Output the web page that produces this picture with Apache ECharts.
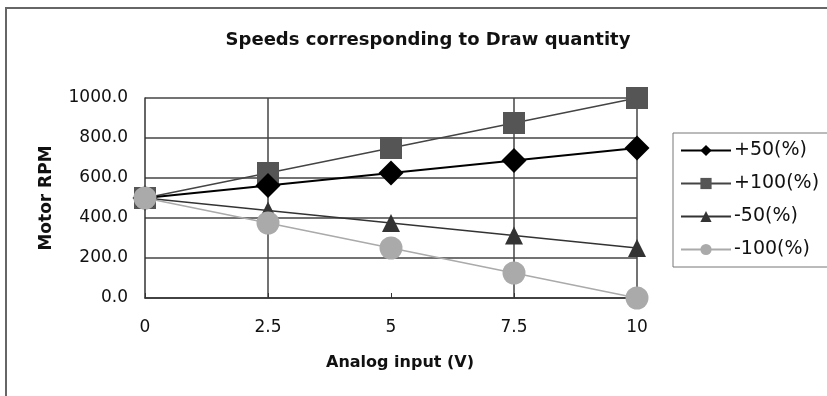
<!DOCTYPE html>
<html>
<head>
<meta charset="utf-8">
<script src="https://cdn.jsdelivr.net/npm/echarts@6/dist/echarts.min.js"></script>
<style>
html,body{margin:0;padding:0;background:#fff;}
#c{width:827px;height:396px;}
</style>
</head>
<body>
<div id="c"></div>
<script>
var categories = ['0', '2.5', '5', '7.5', '10'];
var plus50 = [500, 562.5, 625, 687.5, 750];
var plus100 = [500, 625, 750, 875, 1000];
var minus50 = [500, 437.5, 375, 312.5, 250];
var minus100 = [500, 375, 250, 125, 0];
var seriesNames = ['+50(%)', '+100(%)', '-50(%)', '-100(%)'];

var chart = echarts.init(document.getElementById('c'));
var font = 'DejaVu Sans';
chart.setOption({
  backgroundColor: '#fff',
  animation: false,
  title: {
    text: 'Speeds corresponding to Draw quantity',
    left: 423, top: 26, textAlign: 'center',
    textStyle: {fontFamily: font, fontWeight: 'bold', fontSize: 18, color: '#111'}
  },
  graphic: [
    {type: 'polyline', shape: {points: [[6, 400], [6, 8], [830, 8]]},
     style: {stroke: '#666', lineWidth: 2, fill: null}}
  ],
  legend: {
    orient: 'vertical',
    left: 673, top: 133,
    borderColor: '#777', borderWidth: 1,
    padding: [8, 10, 8, 7],
    itemWidth: 50, itemHeight: 14, itemGap: 14,
    textStyle: {fontFamily: font, fontSize: 19, color: '#111', padding: [0, 0, 0, -2]},
    data: seriesNames
  },
  grid: {left: 145, right: 190, top: 98, bottom: 98, containLabel: false},
  xAxis: {
    type: 'category',
    data: categories,
    boundaryGap: false,
    name: 'Analog input (V)',
    nameLocation: 'middle',
    nameGap: 57,
    nameTextStyle: {fontFamily: font, fontWeight: 'bold', fontSize: 16, color: '#111', padding: [0, 0, 0, 18]},
    axisLine: {lineStyle: {color: '#333', width: 1.5}},
    axisTick: {inside: true, length: 5, lineStyle: {color: '#333'}},
    axisLabel: {fontFamily: font, fontSize: 17, color: '#111', margin: 21},
    splitLine: {show: true, interval: function (i) { return i === 1 || i === 3 || i === 4; },
                lineStyle: {color: '#444', width: 1.5}}
  },
  yAxis: {
    type: 'value',
    min: 0, max: 1000, interval: 200,
    name: 'Motor RPM',
    nameLocation: 'middle',
    nameGap: 90,
    nameTextStyle: {fontFamily: font, fontWeight: 'bold', fontSize: 17, color: '#111'},
    axisLine: {show: true, lineStyle: {color: '#333', width: 1.5}},
    axisTick: {show: false},
    axisLabel: {fontFamily: font, fontSize: 17, color: '#111', margin: 17,
                formatter: function (v) { return v.toFixed(1); }},
    splitLine: {lineStyle: {color: '#444', width: 1.5}}
  },
  series: [
    {name: seriesNames[0], type: 'line', data: plus50, symbol: 'diamond', symbolSize: 25,
     itemStyle: {color: '#000'}, lineStyle: {color: '#000', width: 2}, z: 3},
    {name: seriesNames[1], type: 'line', data: plus100, symbol: 'rect', symbolSize: 22,
     itemStyle: {color: '#555'}, lineStyle: {color: '#444', width: 1.5}, z: 2},
    {name: seriesNames[2], type: 'line', data: minus50, symbol: 'triangle', symbolSize: 18,
     itemStyle: {color: '#333'}, lineStyle: {color: '#333', width: 1.5}, z: 4},
    {name: seriesNames[3], type: 'line', data: minus100, symbol: 'circle', symbolSize: 23,
     itemStyle: {color: '#aaa'}, lineStyle: {color: '#aaa', width: 1.5}, z: 5}
  ]
});
</script>
</body>
</html>
